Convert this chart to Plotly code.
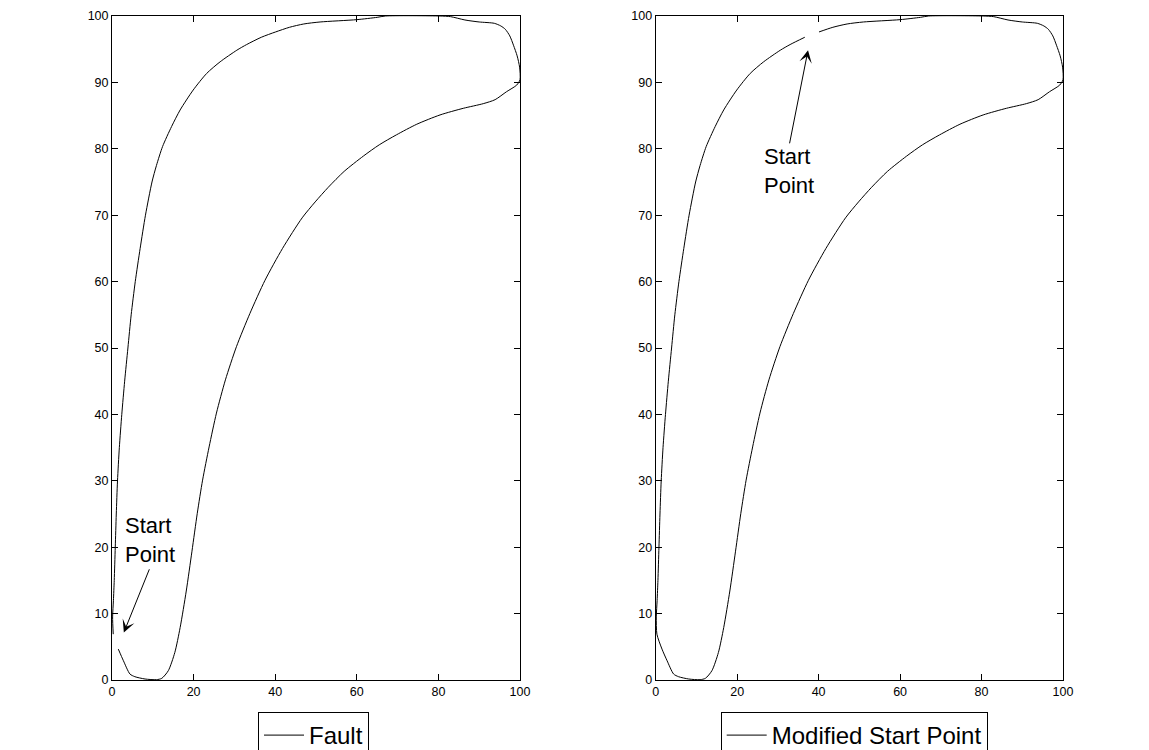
import plotly.graph_objects as go

# Closed trajectory (order as drawn in the "Fault" panel)
fault_x = [1.55, 2.8, 4.4, 5.6, 8.1, 10.9, 12.2, 13.8, 15.4, 16.7, 18.2, 19.6,
           20.9, 22.2, 23.8, 25.6, 27.8, 30.5, 33.8, 37.5, 41.8, 46.6, 49.8,
           53.0, 56.9, 61.6, 65.5, 69.7, 74.7, 80.4, 86.1, 91.0, 93.9, 96.7, 99.2,
           100.0, 99.9, 99.3, 98.4, 97.5, 96.4, 95.3, 93.7, 90.0, 86.5, 83.0,
           80.4, 67.0, 65.0, 60.0, 51.0, 47.0, 43.5, 40.1, 36.6, 33.0, 30.6,
           26.5, 23.2, 19.9, 16.7, 14.6, 12.4, 10.9, 9.8, 8.2, 6.9, 5.7, 4.7,
           3.9, 3.1, 2.4, 1.8, 1.35, 1.05, 0.8, 0.55, 0.35, 0.15, 0.3]
fault_y = [4.65, 2.9, 0.9, 0.5, 0.15, 0.05, 0.25, 1.4, 4.15, 7.9, 13.4, 19.4,
           25.1, 30.1, 35.1, 40.2, 45.2, 50.2, 55.2, 60.2, 65.0, 69.6, 72.0,
           74.2, 76.6, 78.9, 80.6, 82.1, 83.7, 85.1, 86.1, 86.8, 87.4, 88.6, 89.6,
           90.4, 92.3, 94.0, 95.6, 97.0, 98.0, 98.5, 98.9, 99.1, 99.4, 99.9,
           100.0, 100.0, 99.8, 99.45, 99.1, 98.8, 98.3, 97.6, 96.8, 95.7, 94.85,
           93.1, 91.35, 88.85, 85.85, 83.35, 80.35, 77.5, 75.0, 70.0, 65.0, 60.0,
           55.0, 50.0, 45.0, 40.0, 35.0, 30.0, 25.0, 20.0, 15.0, 12.0, 9.5, 6.9]

# The same loop, started at the modified start point (gap near x~37-40 at the top)
modified_start = fault_x.index(36.6)
modified_x = fault_x[modified_start:] + fault_x[:modified_start]
modified_y = fault_y[modified_start:] + fault_y[:modified_start]

x_ticks = [0, 20, 40, 60, 80, 100]
y_ticks = [0, 10, 20, 30, 40, 50, 60, 70, 80, 90, 100]
series_names = ["Fault", "Modified Start Point"]
annotation_text = "Start<br>Point"

FONT = "Liberation Sans, Arial, Helvetica, sans-serif"
W, H = 1149, 750
OFF = 8  # page body margin offset in the browser

def px_x(p):
    return (p - OFF) / W

def px_y(p):
    return 1 - (p - OFF) / H

line_style = dict(color="black", width=1, shape="spline", smoothing=0.7)

fig = go.Figure()
fig.add_trace(go.Scatter(x=fault_x, y=fault_y, mode="lines", name=series_names[0],
                         line=line_style, xaxis="x", yaxis="y", legend="legend"))
fig.add_trace(go.Scatter(x=modified_x, y=modified_y, mode="lines", name=series_names[1],
                         line=line_style, xaxis="x2", yaxis="y2", legend="legend2"))

axis_common = dict(range=[0, 100], showgrid=False, zeroline=False, showline=True,
                   linecolor="black", linewidth=1, mirror="ticks", ticks="inside",
                   ticklen=6, tickwidth=1, tickcolor="black",
                   tickfont=dict(family=FONT, size=12.5, color="black"))
ydom = [px_y(680), px_y(16)]

legend_common = dict(xanchor="left", yanchor="top", bordercolor="black",
                     borderwidth=1, bgcolor="white", itemwidth=40,
                     font=dict(family=FONT, size=24, color="black"))

fig.update_layout(
    width=W, height=H,
    margin=dict(l=0, r=0, t=0, b=0, autoexpand=False),
    paper_bgcolor="white", plot_bgcolor="white",
    showlegend=True,
    xaxis=dict(axis_common, domain=[px_x(112), px_x(520)], anchor="y", tickvals=x_ticks),
    yaxis=dict(axis_common, domain=ydom, anchor="x", tickvals=y_ticks),
    xaxis2=dict(axis_common, domain=[px_x(655.7), px_x(1063)], anchor="y2", tickvals=x_ticks),
    yaxis2=dict(axis_common, domain=ydom, anchor="x2", tickvals=y_ticks),
    legend=dict(legend_common, x=px_x(258), y=px_y(712)),
    legend2=dict(legend_common, x=px_x(720.7), y=px_y(712)),
)

ann_font = dict(family=FONT, size=22, color="black")
# Left panel label and arrow
fig.add_annotation(x=9.3, y=21.1, xref="x", yref="y", text=annotation_text,
                   showarrow=False, align="left", font=ann_font)
fig.add_annotation(x=2.9, y=7.15, ax=9.3, ay=16.9, xref="x", yref="y",
                   axref="x", ayref="y", text="", showarrow=True,
                   arrowhead=3, arrowsize=2.1, arrowwidth=1, arrowcolor="black")
# Right panel label and arrow
fig.add_annotation(x=32.7, y=76.7, xref="x2", yref="y2", text=annotation_text,
                   showarrow=False, align="left", font=ann_font)
fig.add_annotation(x=37.4, y=94.85, ax=32.8, ay=80.6, xref="x2", yref="y2",
                   axref="x2", ayref="y2", text="", showarrow=True,
                   arrowhead=3, arrowsize=2.1, arrowwidth=1, arrowcolor="black")

fig.write_html("out.html")
